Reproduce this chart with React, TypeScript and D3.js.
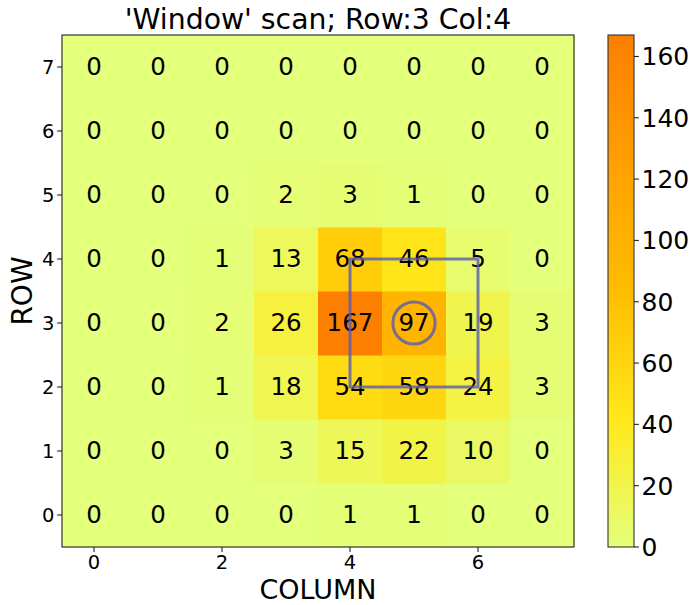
import React from "react";
import * as d3 from "d3";

// Hit counts per row (row 0 at the bottom), columns 0..7 left to right
const row0 = [0, 0, 0, 0, 1, 1, 0, 0];
const row1 = [0, 0, 0, 3, 15, 22, 10, 0];
const row2 = [0, 0, 1, 18, 54, 58, 24, 3];
const row3 = [0, 0, 2, 26, 167, 97, 19, 3];
const row4 = [0, 0, 1, 13, 68, 46, 5, 0];
const row5 = [0, 0, 0, 2, 3, 1, 0, 0];
const row6 = [0, 0, 0, 0, 0, 0, 0, 0];
const row7 = [0, 0, 0, 0, 0, 0, 0, 0];
const counts = [row0, row1, row2, row3, row4, row5, row6, row7];

const xTicks = [0, 2, 4, 6];
const yTicks = [0, 1, 2, 3, 4, 5, 6, 7];
const cbarTicks = [0, 20, 40, 60, 80, 100, 120, 140, 160];

// Wistia colour map anchors
const wistia = ["#e4ff7a", "#ffe81a", "#ffbd00", "#ffa000", "#fc7f00"];

// Scan window: centre cell and half-width
const windowCenterCol = 5;
const windowCenterRow = 3;
const windowHalf = 1;
const markerRadius = 0.33;

const titleText = "'Window' scan; Row:3 Col:4";

const W = 690;
const H = 605;
const plot = { left: 62, right: 574, top: 35, bottom: 547 };
const cbar = { left: 608, right: 634, top: 35, bottom: 547 };
const FONT = "'DejaVu Sans', sans-serif";

export default function App() {
  const nCols = counts[0].length;
  const nRows = counts.length;
  const vmax = d3.max(counts.flat()) as number;

  const x = d3.scaleLinear().domain([-0.5, nCols - 0.5]).range([plot.left, plot.right]);
  const y = d3.scaleLinear().domain([-0.5, nRows - 0.5]).range([plot.bottom, plot.top]);
  const color = d3
    .scaleLinear<string>()
    .domain(wistia.map((_, i) => (i / (wistia.length - 1)) * vmax))
    .range(wistia)
    .interpolate(d3.interpolateRgb);
  const cy = d3.scaleLinear().domain([0, vmax]).range([cbar.bottom, cbar.top]);

  const stops = d3.range(0, 1.0001, 0.05);
  const lineColor = "#5a5ab4";

  return (
    <svg
      width={W}
      height={H}
      style={{ position: "absolute", left: 0, top: 0, background: "#fff" }}
      fontFamily={FONT}
    >
      <defs>
        <linearGradient id="cbarGrad" x1="0" y1="1" x2="0" y2="0">
          {stops.map((t) => (
            <stop key={t} offset={t} stopColor={color(t * vmax)} />
          ))}
        </linearGradient>
      </defs>

      {/* heatmap cells */}
      {counts.map((row, r) =>
        row.map((v, c) => (
          <rect
            key={`c${r}-${c}`}
            x={x(c - 0.5)}
            y={y(r + 0.5)}
            width={x(c + 0.5) - x(c - 0.5) + 0.5}
            height={y(r - 0.5) - y(r + 0.5) + 0.5}
            fill={color(v)}
          />
        ))
      )}

      {/* cell annotations */}
      {counts.map((row, r) =>
        row.map((v, c) => (
          <text
            key={`t${r}-${c}`}
            x={x(c)}
            y={y(r) + 0.36 * 24.5 - 1}
            textAnchor="middle"
            fontSize={24.5}
            fill="#000"
          >
            {v}
          </text>
        ))
      )}

      {/* scan window and centre marker */}
      <rect
        x={x(windowCenterCol - windowHalf)}
        y={y(windowCenterRow + windowHalf)}
        width={x(windowCenterCol + windowHalf) - x(windowCenterCol - windowHalf)}
        height={y(windowCenterRow - windowHalf) - y(windowCenterRow + windowHalf)}
        fill="none"
        stroke={lineColor}
        strokeWidth={3}
        opacity={0.8}
      />
      <circle
        cx={x(windowCenterCol)}
        cy={y(windowCenterRow)}
        r={x(markerRadius) - x(0)}
        fill="none"
        stroke={lineColor}
        strokeWidth={3}
        opacity={0.8}
      />

      {/* frame */}
      <rect
        x={plot.left}
        y={plot.top}
        width={plot.right - plot.left}
        height={plot.bottom - plot.top}
        fill="none"
        stroke="#222"
        strokeWidth={1.1}
      />

      {/* x axis */}
      {xTicks.map((t) => (
        <g key={`xt${t}`}>
          <line x1={x(t)} x2={x(t)} y1={plot.bottom} y2={plot.bottom + 4.9} stroke="#222" strokeWidth={1.1} />
          <text x={x(t)} y={plot.bottom + 21.5} textAnchor="middle" fontSize={19.5} fill="#000">
            {t}
          </text>
        </g>
      ))}
      <text x={(plot.left + plot.right) / 2} y={598.5} textAnchor="middle" fontSize={27} fill="#000">
        COLUMN
      </text>

      {/* y axis */}
      {yTicks.map((t) => (
        <g key={`yt${t}`}>
          <line x1={plot.left - 4.9} x2={plot.left} y1={y(t)} y2={y(t)} stroke="#222" strokeWidth={1.1} />
          <text x={plot.left - 7.5} y={y(t) + 7.1} textAnchor="end" fontSize={19.5} fill="#000">
            {t}
          </text>
        </g>
      ))}
      <text
        transform={`translate(32, ${(plot.top + plot.bottom) / 2}) rotate(-90)`}
        textAnchor="middle"
        fontSize={28}
        fill="#000"
      >
        ROW
      </text>

      {/* title */}
      <text x={(plot.left + plot.right) / 2} y={29} textAnchor="middle" fontSize={28.3} fill="#000">
        {titleText}
      </text>

      {/* colour bar */}
      <rect
        x={cbar.left}
        y={cbar.top}
        width={cbar.right - cbar.left}
        height={cbar.bottom - cbar.top}
        fill="url(#cbarGrad)"
        stroke="#333"
        strokeWidth={1.1}
      />
      {cbarTicks.map((t) => (
        <g key={`ct${t}`}>
          <line x1={cbar.right} x2={cbar.right + 4.9} y1={cy(t)} y2={cy(t)} stroke="#222" strokeWidth={1.1} />
          <text x={cbar.right + 7.5} y={cy(t) + 9} textAnchor="start" fontSize={25} fill="#000">
            {t}
          </text>
        </g>
      ))}
    </svg>
  );
}
